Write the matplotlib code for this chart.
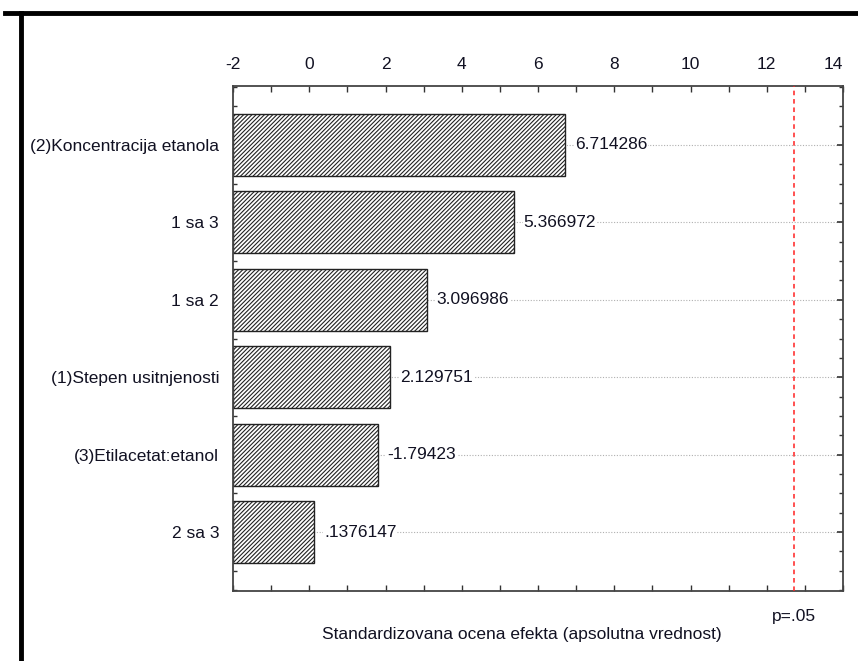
import matplotlib
matplotlib.use("Agg")
import matplotlib.pyplot as plt
from matplotlib.lines import Line2D
from matplotlib.ticker import MultipleLocator, FixedLocator

plt.rcParams["font.family"] = ["Liberation Sans", "DejaVu Sans"]
plt.rcParams["hatch.linewidth"] = 0.8

# --- data ---
effects = [
    "(2)Koncentracija etanola",
    "1 sa 3",
    "1 sa 2",
    "(1)Stepen usitnjenosti",
    "(3)Etilacetat:etanol",
    "2 sa 3",
]
values = [6.714286, 5.366972, 3.096986, 2.129751, 1.79423, 0.1376147]
value_labels = ["6.714286", "5.366972", "3.096986", "2.129751", "-1.79423", ".1376147"]
p_crit = 12.706
x_ticks = [-2, 0, 2, 4, 6, 8, 10, 12, 14]

W, H = 858, 661
FS = 12.5
fig = plt.figure(figsize=(W / 100, H / 100), dpi=100)
ax = fig.add_axes([233 / W, 1 - 591 / H, (843 - 233) / W, (591 - 86) / H])

xmin, xmax = -2, 14
pos = list(range(len(effects)))

# dotted row gridlines behind the bars
for y in pos:
    ax.axhline(y, color="#b0b0b0", lw=0.8, ls=(0, (1, 1.5)), zorder=0)

ax.barh(pos, [v - xmin for v in values], left=xmin, height=0.8,
        color="white", edgecolor="#222222", hatch="////////", lw=1.0, zorder=2)

for y, v, lab in zip(pos, values, value_labels):
    ax.text(v + 0.25, y, lab, va="center", ha="left", fontsize=FS,
            color="#111122", zorder=3,
            bbox=dict(boxstyle="square,pad=0.05", fc="white", ec="none"))

ax.axvline(p_crit, color="#ff2020", lw=1.1, ls=(0, (3, 2.5)), zorder=4)

ax.set_xlim(xmin, xmax)
ax.set_ylim(len(effects) - 1 + 0.76, -0.76)

ax.xaxis.tick_top()
ax.xaxis.set_major_locator(FixedLocator(x_ticks))
ax.xaxis.set_minor_locator(MultipleLocator(1))
ax.set_xticklabels([str(t) for t in x_ticks])
ax.get_xticklabels()[-1].set_horizontalalignment("right")
ax.set_yticks(pos)
ax.set_yticklabels(effects)
ax.yaxis.set_minor_locator(MultipleLocator(0.25))

ax.tick_params(axis="both", which="both", direction="in", color="#333333",
               top=True, bottom=True, left=True, right=True,
               labelsize=FS, labelcolor="#111122")
ax.tick_params(axis="x", which="major", length=4, width=1, pad=10)
ax.tick_params(axis="x", which="minor", length=4, width=1)
ax.tick_params(axis="y", which="major", length=4, width=1.2, pad=10)
ax.tick_params(axis="y", which="minor", length=3, width=1)

for s in ax.spines.values():
    s.set_color("#444444")
    s.set_linewidth(1.3)

ax.text(p_crit, -0.035, "p=.05", transform=ax.get_xaxis_transform(),
        ha="center", va="top", fontsize=FS, color="#111122")
fig.text(522 / W, 1 - 634 / H, "Standardizovana ocena efekta (apsolutna vrednost)",
         ha="center", va="center", fontsize=FS, color="#111122")

# outer frame lines
fig.add_artist(Line2D([5 / W, 1], [1 - 12.5 / H] * 2, color="black", lw=3.5,
                      transform=fig.transFigure))
fig.add_artist(Line2D([20.5 / W] * 2, [0, 1 - 12.5 / H], color="black", lw=3.5,
                      transform=fig.transFigure))

fig.savefig("out.png", dpi=100)
